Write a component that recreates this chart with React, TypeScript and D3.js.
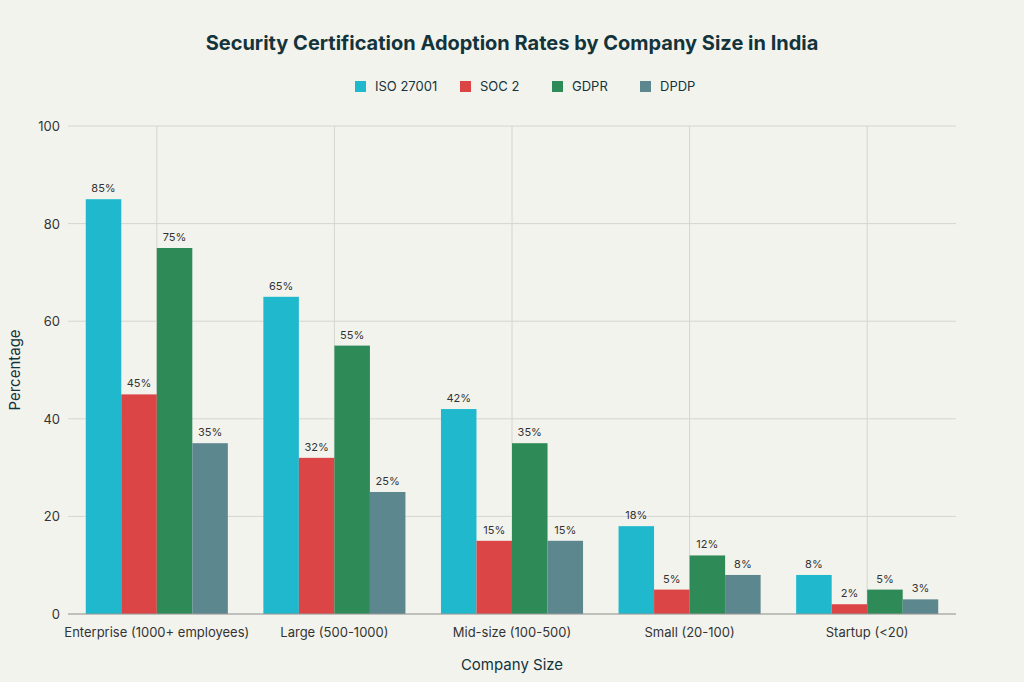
import * as d3 from "d3";

const categories = ["Enterprise (1000+ employees)", "Large (500-1000)", "Mid-size (100-500)", "Small (20-100)", "Startup (<20)"];
const seriesNames = ["ISO 27001", "SOC 2", "GDPR", "DPDP"];
const iso = [85, 65, 42, 18, 8];
const soc2 = [45, 32, 15, 5, 2];
const gdpr = [75, 55, 35, 12, 5];
const dpdp = [35, 25, 15, 8, 3];
const colors = ["#1FB8CD", "#DB4545", "#2E8B57", "#5D878F"];
const yTicks = [0, 20, 40, 60, 80, 100];

const W = 1024, H = 682;
const m = { left: 68, right: 68, top: 126, bottom: 68 };
const font = "Inter, 'Noto Sans', sans-serif";

export default function App() {
  const series = [iso, soc2, gdpr, dpdp];
  const x = d3.scaleBand().domain(categories).range([m.left, W - m.right]).paddingInner(0.2).paddingOuter(0.1);
  const x1 = d3.scaleBand().domain(seriesNames).range([0, x.bandwidth()]);
  const y = d3.scaleLinear().domain([0, 100]).range([H - m.bottom, m.top]);
  const legendX = [355, 460, 552, 640];
  return (
    <svg width={W} height={H} style={{ position: "absolute", left: 0, top: 0, background: "#F3F3EE", fontFamily: font }}>
      <rect width={W} height={H} fill="#F3F3EE" />
      <text x={W / 2} y={50} textAnchor="middle" fontSize={20} fontWeight={700} fill="#13343B">
        Security Certification Adoption Rates by Company Size in India
      </text>
      {seriesNames.map((s, i) => (
        <g key={s} transform={`translate(${legendX[i]},87)`}>
          <rect x={0} y={-6} width={11} height={11} fill={colors[i]} />
          <text x={20} y={4} fontSize={13} fill="#13343B">{s}</text>
        </g>
      ))}
      {yTicks.map(t => (
        <g key={t}>
          <line x1={m.left} x2={W - m.right} y1={y(t)} y2={y(t)} stroke="#D6D6D0" strokeWidth={1} />
          <text x={m.left - 8} y={y(t) + 5} textAnchor="end" fontSize={13} fill="#333">{t}</text>
        </g>
      ))}
      {categories.map(c => (
        <g key={c}>
          <line x1={x(c)! + x.bandwidth() / 2} x2={x(c)! + x.bandwidth() / 2} y1={m.top} y2={H - m.bottom} stroke="#D6D6D0" />
          <text x={x(c)! + x.bandwidth() / 2} y={H - m.bottom + 23} textAnchor="middle" fontSize={13} fill="#333">{c}</text>
        </g>
      ))}
      {categories.map((c, ci) =>
        series.map((vals, si) => {
          const bx = x(c)! + x1(seriesNames[si])!;
          const v = vals[ci];
          return (
            <g key={c + si}>
              <rect x={bx} y={y(v)} width={x1.bandwidth()} height={y(0) - y(v)} fill={colors[si]} />
              <text x={bx + x1.bandwidth() / 2} y={y(v) - 7} textAnchor="middle" fontSize={11} fill="#333">{v}%</text>
            </g>
          );
        })
      )}
      <line x1={m.left} x2={W - m.right} y1={y(0)} y2={y(0)} stroke="#999" />
      <text x={W / 2} y={670} textAnchor="middle" fontSize={15} fill="#13343B">Company Size</text>
      <text transform={`translate(20,${(m.top + H - m.bottom) / 2}) rotate(-90)`} textAnchor="middle" fontSize={15} fill="#13343B">Percentage</text>
    </svg>
  );
}
